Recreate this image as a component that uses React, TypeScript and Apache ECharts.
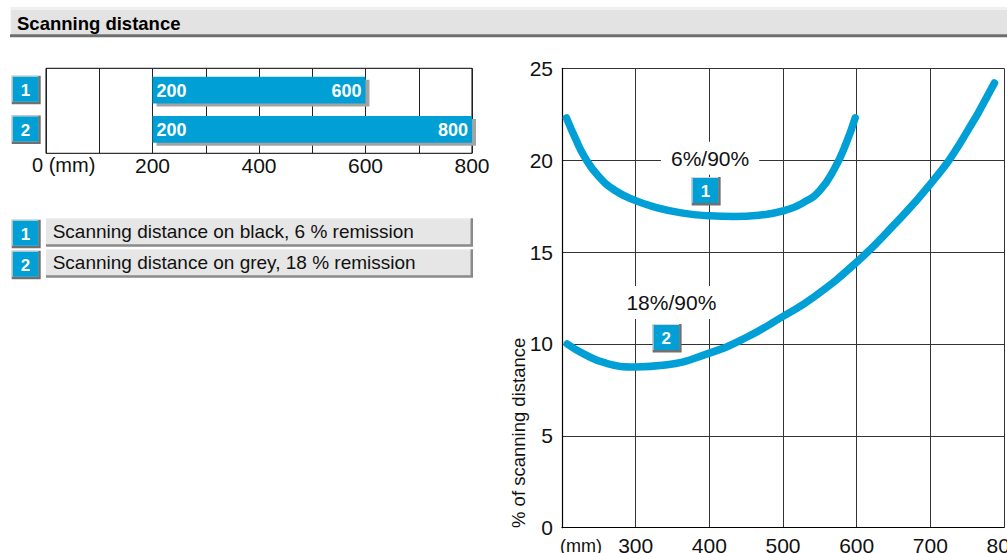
import React, { useEffect, useRef } from "react";
import * as echarts from "echarts";

// ---- data ----
const rangeCats = ["1", "2"];
const rangeStart = [200, 200];
const rangeEnd = [600, 800];
const rangeLabelTicks = [200, 400, 600, 800];

const legendLabels = [
  "Scanning distance on black, 6 % remission",
  "Scanning distance on grey, 18 % remission",
];

const curve1X = [206, 218, 231, 249, 272, 300, 326, 362, 400, 433, 470, 500, 528, 550, 570, 586, 598];
const curve1Y = [22.3, 21.2, 20.15, 19.15, 18.35, 17.8, 17.45, 17.13, 16.97, 16.93, 17.02, 17.24, 17.7, 18.35, 19.55, 20.95, 22.3];

const curve2X = [207, 230, 260, 300, 340, 400, 450, 500, 540, 600, 650, 700, 740, 787];
const curve2Y = [10.0, 9.45, 8.95, 8.75, 8.85, 9.5, 10.35, 11.5, 12.5, 14.45, 16.45, 18.7, 20.9, 24.2];

const curveNames = ["6%/90%", "18%/90%"];
const curveNameX = [401, 348.5];
const curveNameY = [20.1, 12.25];
const curveBadgeX = [395, 342];
const curveBadgeY = [18.35, 10.35];

const xTicksMain = [300, 400, 500, 600, 700, 800];

// ---- style ----
const BLUE = "#00a0d7";
const FONT = "'Liberation Sans', Arial, sans-serif";

function badgeChildren(x: number, y: number, label: string) {
  const w = 25.5;
  const h = 25;
  return [
    { type: "rect", shape: { x: x - 1, y: y - 1, width: w + 3.5, height: h + 3.5 }, style: { fill: "#707070" } },
    { type: "rect", shape: { x: x - 1, y: y - 1, width: w + 1, height: h + 1 }, style: { fill: "#d6d6d6" } },
    { type: "rect", shape: { x, y, width: w, height: h }, style: { fill: BLUE } },
    {
      type: "text",
      style: {
        text: label, x: x + w / 2, y: y + h / 2 + 1, align: "center", verticalAlign: "middle",
        fill: "#fff", fontSize: 17, fontWeight: "bold", fontFamily: FONT,
      },
    },
  ];
}

export default function App() {
  const ref = useRef<HTMLDivElement>(null);
  useEffect(() => {
    if (!ref.current) return;
    const chart = echarts.init(ref.current, undefined, { renderer: "svg" });

    const graphics: any[] = [];
    // title bar
    graphics.push(
      { type: "rect", shape: { x: 10, y: 7, width: 997, height: 3 }, style: { fill: "#f0f0f0" } },
      { type: "rect", shape: { x: 10, y: 10, width: 997, height: 24.5 }, style: { fill: "#e3e3e3" } },
      { type: "rect", shape: { x: 10, y: 7, width: 1.2, height: 27.5 }, style: { fill: "#f6f6f6" } },
      { type: "rect", shape: { x: 10, y: 34.3, width: 997, height: 3 }, style: { fill: "#6e6e6e" } },
      {
        type: "text",
        style: { text: "Scanning distance", x: 17, y: 23, verticalAlign: "middle", fontSize: 18.5, fontWeight: "bold", fill: "#000", fontFamily: FONT },
      }
    );
    // range badges
    const rangeBadgeTop = [76.7, 116.5];
    rangeCats.forEach((c, i) => {
      graphics.push({ type: "group", children: badgeChildren(12.7, rangeBadgeTop[i], c) });
    });
    // 0 (mm)
    graphics.push({
      type: "text",
      style: { text: "0 (mm)", x: 32, y: 164.5, verticalAlign: "middle", fontSize: 20, fill: "#111", fontFamily: FONT },
    });
    // legend rows
    const legendTop = [218.3, 249.3];
    legendLabels.forEach((t, i) => {
      const y = legendTop[i];
      graphics.push({ type: "group", children: badgeChildren(12.7, y + 2.4, rangeCats[i]) });
      graphics.push(
        { type: "rect", shape: { x: 46, y, width: 427, height: 28.4 }, style: { fill: "#8a8a8a" } },
        { type: "rect", shape: { x: 46, y, width: 424.5, height: 26 }, style: { fill: "#e6e6e6" } },
        { type: "rect", shape: { x: 46, y, width: 424.5, height: 1 }, style: { fill: "#f4f4f4" } },
        {
          type: "text",
          style: { text: t, x: 52.7, y: y + 13.5, verticalAlign: "middle", fontSize: 19, fill: "#111", fontFamily: FONT },
        }
      );
    });
    // right chart axis name / unit
    graphics.push(
      {
        type: "text",
        x: 518, y: 528, rotation: Math.PI / 2,
        style: { text: "% of scanning distance", x: 0, y: 0, align: "left", verticalAlign: "middle", fontSize: 18.5, fill: "#111", fontFamily: FONT },
      },
      {
        type: "text",
        style: { text: "(mm)", x: 560, y: 546, verticalAlign: "middle", fontSize: 18, fill: "#111", fontFamily: FONT },
      }
    );

    const lineCommon = {
      type: "line", xAxisIndex: 1, yAxisIndex: 1,
      smooth: 0.5, symbol: "none",
      lineStyle: { color: BLUE, width: 7.5, cap: "round", join: "round" },
      z: 3,
    };

    const option: any = {
      animation: false,
      backgroundColor: "#fff",
      textStyle: { fontFamily: FONT },
      grid: [
        { left: 46, top: 68.3, width: 426, height: 85, show: true, borderColor: "#000", borderWidth: 1, backgroundColor: "transparent", outerBoundsMode: "none" },
        { left: 562, top: 68.3, right: 3, bottom: 25.3, outerBoundsMode: "none" },
      ],
      xAxis: [
        {
          gridIndex: 0, type: "value", min: 0, max: 800, interval: 100,
          axisLine: { show: false }, axisTick: { show: false },
          splitLine: { show: true, lineStyle: { color: "#222", width: 1 } },
          axisLabel: {
            fontSize: 21, color: "#111", margin: 2, fontFamily: FONT,
            formatter: (v: number) => (rangeLabelTicks.indexOf(v) >= 0 ? String(v) : ""),
          },
        },
        {
          gridIndex: 1, type: "value", min: 200, max: 800, interval: 100,
          axisLine: { show: true, lineStyle: { color: "#000", width: 1.2 } }, axisTick: { show: false },
          splitLine: { show: true, lineStyle: { color: "#333", width: 1 } },
          axisLabel: {
            fontSize: 21, color: "#111", margin: 7, fontFamily: FONT,
            formatter: (v: number) => (xTicksMain.indexOf(v) >= 0 ? String(v) : ""),
          },
        },
      ],
      yAxis: [
        {
          gridIndex: 0, type: "category", data: rangeCats, inverse: true,
          axisLine: { show: false }, axisTick: { show: false }, axisLabel: { show: false }, splitLine: { show: false },
        },
        {
          gridIndex: 1, type: "value", min: 0, max: 25, interval: 5,
          axisLine: { show: true, lineStyle: { color: "#000", width: 1.2 } }, axisTick: { show: false },
          splitLine: { show: true, lineStyle: { color: "#333", width: 1 } },
          axisLabel: { fontSize: 21, color: "#111", margin: 9, fontFamily: FONT },
        },
      ],
      series: [
        {
          type: "custom", xAxisIndex: 0, yAxisIndex: 0,
          encode: { x: [1, 2], y: 0 },
          data: rangeCats.map((c, i) => [i, rangeStart[i], rangeEnd[i]]),
          renderItem: (params: any, api: any) => {
            const idx = api.value(0);
            const s = api.value(1);
            const e = api.value(2);
            const p0 = api.coord([s, idx]);
            const p1 = api.coord([e, idx]);
            const band = api.size([0, 1])[1];
            const h = band * 0.63;
            // bars sit slightly toward the middle of the frame
            const cy = p0[1] + (idx === 0 ? 0.6 : -2.6);
            const top = cy - h / 2;
            const w = p1[0] - p0[0];
            const txt = { fill: "#fff", fontSize: 18, fontWeight: "bold", fontFamily: FONT, verticalAlign: "middle" };
            return {
              type: "group",
              children: [
                { type: "rect", shape: { x: p0[0] + 4, y: top + 3, width: w, height: h }, style: { fill: "#a3a3a3" } },
                { type: "rect", shape: { x: p0[0], y: top, width: w, height: h }, style: { fill: BLUE } },
                { type: "text", style: { ...txt, text: String(s), x: p0[0] + 4, y: cy + 1, align: "left" } },
                { type: "text", style: { ...txt, text: String(e), x: p1[0] - 4, y: cy + 1, align: "right" } },
              ],
            };
          },
          z: 3,
        },
        { ...lineCommon, name: curveNames[0], data: curve1X.map((x, i) => [x, curve1Y[i]]) },
        { ...lineCommon, name: curveNames[1], data: curve2X.map((x, i) => [x, curve2Y[i]]) },
        {
          type: "custom", xAxisIndex: 1, yAxisIndex: 1,
          data: curveNames.map((n, i) => [curveNameX[i], curveNameY[i]]),
          renderItem: (params: any, api: any) => {
            const p = api.coord([api.value(0), api.value(1)]);
            return {
              type: "text",
              style: {
                text: curveNames[params.dataIndex], x: p[0], y: p[1], align: "center", verticalAlign: "middle",
                fontSize: 21, fill: "#111", fontFamily: FONT, backgroundColor: "#fff", padding: [6, 10],
              },
            };
          },
          z: 4,
        },
        {
          type: "custom", xAxisIndex: 1, yAxisIndex: 1,
          data: curveBadgeX.map((x, i) => [x, curveBadgeY[i]]),
          renderItem: (params: any, api: any) => {
            const p = api.coord([api.value(0), api.value(1)]);
            return { type: "group", children: badgeChildren(p[0] - 13, p[1] - 12.5, rangeCats[params.dataIndex]) };
          },
          z: 5,
        },
      ],
      graphic: graphics,
    };
    chart.setOption(option);
    return () => chart.dispose();
  }, []);
  return <div ref={ref} style={{ position: "absolute", left: 0, top: 0, width: 1007, height: 553 }} />;
}
